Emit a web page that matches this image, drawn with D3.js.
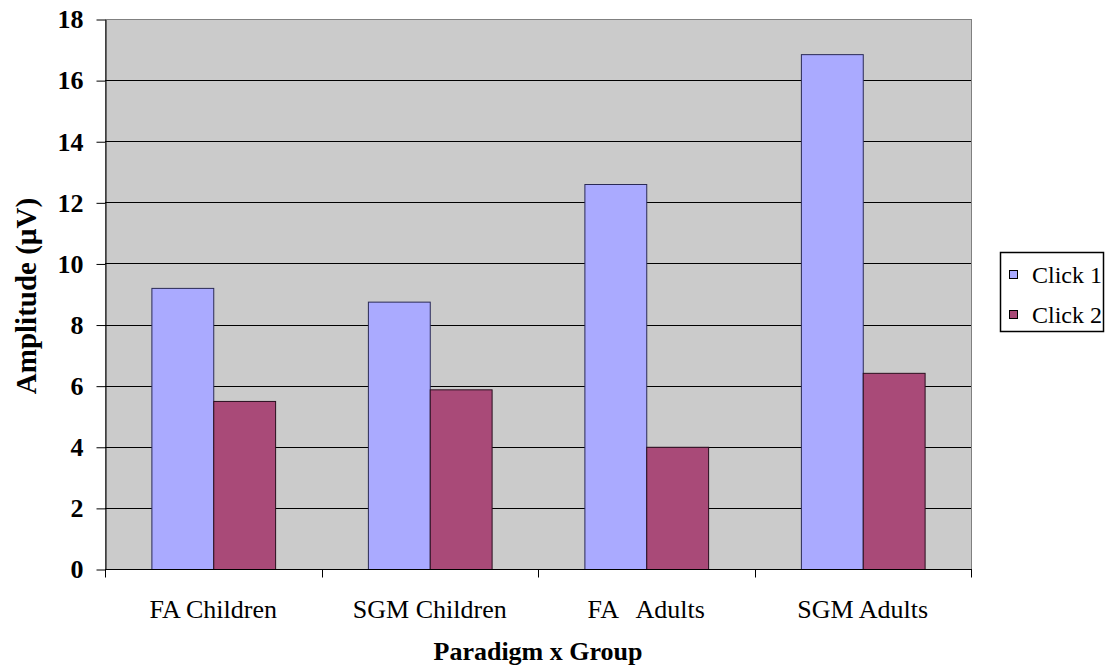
<!DOCTYPE html>
<html>
<head>
<meta charset="utf-8">
<script src="https://cdn.jsdelivr.net/npm/d3@7"></script>
</head>
<body style="margin:0">
<svg id="chart" width="1106" height="671" font-family="Liberation Serif" style="display:block"></svg>
<script>
// Groups (paradigm x group) and mean amplitudes per click
const categories = ["FA Children", "SGM Children", "FA   Adults", "SGM Adults"];
const seriesNames = ["Click 1", "Click 2"];
const click1 = [9.2, 8.75, 12.6, 16.85];
const click2 = [5.5, 5.88, 4.0, 6.42];
const yTicks = [0, 2, 4, 6, 8, 10, 12, 14, 16, 18];

const colors = { "Click 1": "#aaaaff", "Click 2": "#a94a78" };
const strokes = { "Click 1": "#2a2a55", "Click 2": "#2a0f1f" };
const FONT = "Liberation Serif";

const svg = d3.select("#chart");
const plot = { left: 105, right: 971, top: 19, bottom: 569 };

const x = d3.scaleBand().domain(categories).range([plot.left, plot.right]).padding(0);
const bw = x.bandwidth();
const barW = bw / 3.5;                   // gap width of 150%
const xs = d3.scaleBand().domain(seriesNames)
  .range([(bw - 2 * barW) / 2, (bw + 2 * barW) / 2]).padding(0);

const y = d3.scaleLinear().domain([0, 18]).range([plot.bottom, plot.top]);

// plot area background
svg.append("rect")
  .attr("x", plot.left + 0.5).attr("y", plot.top + 0.5)
  .attr("width", plot.right - plot.left).attr("height", plot.bottom - plot.top)
  .attr("fill", "#cbcbcb").attr("stroke", "#808080").attr("stroke-width", 1);

// horizontal gridlines
svg.append("g").selectAll("line")
  .data(yTicks.filter(d => d > 0 && d < 18))
  .join("line")
  .attr("x1", plot.left).attr("x2", plot.right)
  .attr("y1", d => Math.round(y(d)) + 0.5).attr("y2", d => Math.round(y(d)) + 0.5)
  .attr("stroke", "#000").attr("stroke-width", 1);

// bars
const rows = categories.map((c, i) => ({ cat: c, values: [
  { name: "Click 1", v: click1[i] }, { name: "Click 2", v: click2[i] }] }));

svg.append("g").selectAll("g")
  .data(rows).join("g")
  .attr("transform", d => `translate(${x(d.cat)},0)`)
  .selectAll("rect")
  .data(d => d.values).join("rect")
  .attr("x", d => xs(d.name) + 0.5)
  .attr("y", d => y(d.v) + 0.5)
  .attr("width", xs.bandwidth())
  .attr("height", d => y(0) - y(d.v))
  .attr("fill", d => colors[d.name])
  .attr("stroke", d => strokes[d.name])
  .attr("stroke-width", 1);

// y axis
const yAxis = svg.append("g")
  .attr("transform", `translate(${plot.left + 0.5},0.5)`)
  .call(d3.axisLeft(y).tickValues(yTicks).tickSize(9).tickPadding(13).tickSizeOuter(0));
yAxis.attr("font-family", FONT).attr("font-size", 26).attr("font-weight", "bold");
yAxis.select(".domain").attr("stroke", "#000");
yAxis.selectAll(".tick line").attr("stroke", "#000");
yAxis.selectAll("text").attr("fill", "#000");

// x axis: ticks at the category boundaries
const xAxisG = svg.append("g").attr("transform", `translate(0,${plot.bottom + 0.5})`);
xAxisG.append("line")
  .attr("x1", plot.left).attr("x2", plot.right + 1)
  .attr("stroke", "#000");
const bounds = categories.map(c => x(c)).concat([plot.right]);
xAxisG.selectAll("line.tk").data(bounds).join("line")
  .attr("class", "tk")
  .attr("x1", d => Math.round(d) + 0.5).attr("x2", d => Math.round(d) + 0.5)
  .attr("y1", 0).attr("y2", 8).attr("stroke", "#000");
xAxisG.selectAll("text").data(categories).join("text")
  .attr("x", d => x(d) + bw / 2).attr("y", 48)
  .attr("text-anchor", "middle")
  .attr("font-family", FONT)
  .attr("font-size", 26)
  .style("white-space", "pre")
  .text(d => d);

// axis titles
svg.append("text")
  .attr("x", (plot.left + plot.right) / 2).attr("y", 660)
  .attr("text-anchor", "middle")
  .attr("font-family", FONT)
  .attr("font-size", 26).attr("font-weight", "bold")
  .text("Paradigm x Group");

svg.append("text")
  .attr("transform", `translate(36,296) rotate(-90)`)
  .attr("text-anchor", "middle")
  .attr("font-family", FONT)
  .attr("font-size", 29).attr("font-weight", "bold")
  .text("Amplitude (µV)");

// legend
const legend = svg.append("g");
legend.append("rect")
  .attr("x", 1000.5).attr("y", 252.5).attr("width", 103).attr("height", 79)
  .attr("fill", "#fff").attr("stroke", "#000").attr("stroke-width", 1.5);
const li = legend.selectAll("g.item").data(seriesNames).join("g")
  .attr("class", "item")
  .attr("transform", (d, i) => `translate(1009,${275 + i * 40})`);
li.append("rect")
  .attr("x", 0.5).attr("y", -4.5).attr("width", 8).attr("height", 8)
  .attr("fill", d => colors[d]).attr("stroke", "#000");
li.append("text")
  .attr("x", 23).attr("y", 8)
  .attr("font-family", FONT)
  .attr("font-size", 24)
  .text(d => d);
</script>
</body>
</html>
